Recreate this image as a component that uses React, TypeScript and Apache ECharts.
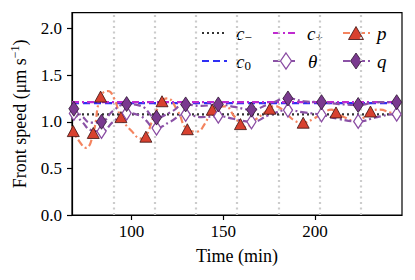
import React, { useEffect, useRef } from "react";
import * as echarts from "echarts";

// ---- data ----
const xRange = [67.5, 247.5];
const yRange = [0, 2.17];
const xTicks = [100, 150, 200];
const yTicks = [0, 0.5, 1.0, 1.5, 2.0];
const divisionTimes = [90, 112.5, 135, 157.5, 180, 202.5, 225];

const cMinus = 1.08;
const cZero = 1.2;
const cPlus = 1.21;

const pCurveT = [67.5, 68.2, 71.5, 75.1, 79.1, 83.1, 87.1, 90.5, 94.2, 100, 105.5, 107.8, 112, 116.6, 119.3, 125, 130.4, 135.5, 140, 144, 150.9, 156, 159.4, 162, 168, 175.4, 177.8, 183, 188.2, 193.6, 199, 205, 209, 211.5, 217, 222.7, 230.3, 235.5, 241, 247.5];
const pCurveV = [0.95, 0.9, 0.79, 0.72, 0.88, 1.27, 1.33, 1.25, 1.05, 0.9, 0.82, 0.84, 1.05, 1.22, 1.25, 1.12, 0.92, 0.895, 0.98, 1.13, 1.165, 1.06, 0.975, 0.94, 1.03, 1.14, 1.17, 1.12, 1.02, 0.99, 1.03, 1.1, 1.13, 1.1, 1.04, 1.0, 1.11, 1.13, 1.1, 1.07];
const pMarkT = [68.2, 79.1, 83.1, 94.2, 107.8, 116.6, 130.4, 144, 159.4, 175.4, 193.6, 211.5, 230.3];
const pMarkV = [0.9, 0.88, 1.27, 1.05, 0.84, 1.22, 0.92, 1.13, 0.975, 1.14, 0.99, 1.1, 1.11];

const qCurveT = [67.5, 68.5, 73, 78, 83.6, 90, 97.3, 105, 113.6, 121, 129.5, 138, 147.3, 156, 165.4, 175, 185.3, 194, 203.6, 213, 223.6, 234, 244.6, 247.5];
const qCurveV = [1.16, 1.14, 1.06, 0.99, 1.0, 1.12, 1.19, 1.17, 1.045, 1.1, 1.186, 1.17, 1.186, 1.16, 1.13, 1.19, 1.25, 1.22, 1.21, 1.19, 1.18, 1.21, 1.21, 1.21];
const qMarkT = [68.5, 83.6, 97.3, 113.6, 129.5, 147.3, 165.4, 185.3, 203.6, 223.6, 244.6];
const qMarkV = [1.14, 1.0, 1.19, 1.045, 1.186, 1.186, 1.13, 1.25, 1.21, 1.18, 1.21];

const thCurveT = [67.5, 68.5, 73, 78, 83.6, 90, 97.3, 105, 113.6, 121, 129.5, 138, 147.3, 156, 165.4, 175, 185.3, 194, 203.6, 213, 223.6, 234, 244.6, 247.5];
const thCurveV = [1.1, 1.09, 1.0, 0.91, 0.897, 1.0, 1.093, 1.06, 0.932, 1.0, 1.08, 1.05, 1.06, 1.03, 1.0, 1.07, 1.125, 1.1, 1.075, 1.03, 1.004, 1.05, 1.082, 1.08];
const thMarkT = [68.5, 83.6, 97.3, 113.6, 129.5, 147.3, 165.4, 185.3, 203.6, 223.6, 244.6];
const thMarkV = [1.09, 0.897, 1.093, 0.932, 1.08, 1.06, 1.0, 1.125, 1.075, 1.004, 1.082];

// ---- styles ----
const FONT = "Liberation Serif, DejaVu Serif, serif";
const C_MINUS = "#333333";
const C_ZERO = "#2f2ff5";
const C_PLUS = "#c02ad0";
const P_LINE = "#f4845f";
const P_FILL = "#d8412f";
const PURPLE_LINE = "#8b52a6";
const TH_EDGE = "#8a4ca3";
const Q_FILL = "#7a3a8f";

const zip = (a: number[], b: number[]) => a.map((t, i) => [t, b[i]]);

export default function App() {
  const ref = useRef<HTMLDivElement>(null);
  useEffect(() => {
    if (!ref.current) return;
    const chart = echarts.init(ref.current, null, { renderer: "svg" });
    const hline = (v: number) => [
      [xRange[0], v],
      [xRange[1], v],
    ];
    const dashDot = [7, 3, 2, 3];
    const mathText = (main: string, sub?: string) =>
      sub ? `{m|${main}}{s|${sub}}` : `{m|${main}}`;
    const rich = {
      m: { fontFamily: FONT, fontStyle: "italic", fontSize: 19, fill: "#000", color: "#000" },
      s: { fontFamily: FONT, fontSize: 13, fill: "#000", color: "#000", padding: [9, 0, 0, 0] },
    };
    const r1 = 33;
    const r2 = 61;
    const legend: any[] = [
      { type: "line", shape: { x1: 202, y1: r1, x2: 227, y2: r1 }, style: { stroke: C_MINUS, lineWidth: 2.2, lineDash: [2, 3] } },
      { type: "text", x: 236, y: r1, style: { text: mathText("c", "−"), rich, verticalAlign: "middle", fontFamily: FONT, fontSize: 19 } },
      { type: "line", shape: { x1: 273, y1: r1, x2: 298, y2: r1 }, style: { stroke: C_PLUS, lineWidth: 2.2, lineDash: dashDot } },
      { type: "text", x: 307, y: r1, style: { text: mathText("c", "+"), rich, verticalAlign: "middle", fontFamily: FONT, fontSize: 19 } },
      { type: "line", shape: { x1: 343, y1: r1, x2: 370, y2: r1 }, style: { stroke: P_LINE, lineWidth: 2.2, lineDash: dashDot } },
      { type: "polygon", shape: { points: [[348.5, 39.5], [363.5, 39.5], [356, 26.5]] }, style: { fill: P_FILL, stroke: "#3a1010", lineWidth: 0.8 } },
      { type: "text", x: 377, y: r1, style: { text: mathText("p"), rich, verticalAlign: "middle", fontFamily: FONT, fontSize: 19 } },
      { type: "line", shape: { x1: 202, y1: r2, x2: 227, y2: r2 }, style: { stroke: C_ZERO, lineWidth: 2.2, lineDash: [7, 4] } },
      { type: "text", x: 236, y: r2, style: { text: mathText("c", "0"), rich, verticalAlign: "middle", fontFamily: FONT, fontSize: 19 } },
      { type: "line", shape: { x1: 273, y1: r2, x2: 298, y2: r2 }, style: { stroke: PURPLE_LINE, lineWidth: 2.2, lineDash: dashDot } },
      { type: "polygon", shape: { points: [[286, 53], [291.5, 61], [286, 69], [280.5, 61]] }, style: { fill: "#fff", stroke: TH_EDGE, lineWidth: 1.3 } },
      { type: "text", x: 308, y: r2, style: { text: mathText("θ"), rich, verticalAlign: "middle", fontFamily: FONT, fontSize: 19 } },
      { type: "line", shape: { x1: 343, y1: r2, x2: 370, y2: r2 }, style: { stroke: PURPLE_LINE, lineWidth: 2.2, lineDash: dashDot } },
      { type: "polygon", shape: { points: [[356, 53], [361.5, 61], [356, 69], [350.5, 61]] }, style: { fill: Q_FILL, stroke: "#2d1530", lineWidth: 0.8 } },
      { type: "text", x: 377, y: r2, style: { text: mathText("q"), rich, verticalAlign: "middle", fontFamily: FONT, fontSize: 19 } },
    ];

    const axisCommon = {
      axisLine: { show: true, lineStyle: { color: "#000", width: 1.2 } },
      axisTick: { show: true, length: 5, lineStyle: { color: "#000", width: 1.2 } },
      splitLine: { show: false },
      nameTextStyle: { fontFamily: FONT, fontSize: 18, color: "#000" },
    };

    chart.setOption({
      animation: false,
      backgroundColor: "#fff",
      grid: {
        left: 72,
        right: 13,
        top: 12.7,
        bottom: 65,
        show: true,
        borderColor: "#000",
        borderWidth: 1.2,
        outerBoundsMode: "none",
      },
      xAxis: {
        type: "value",
        min: xRange[0],
        max: xRange[1],
        ...axisCommon,
        axisTick: { ...axisCommon.axisTick, customValues: xTicks },
        axisLabel: { customValues: xTicks, fontFamily: FONT, fontSize: 17, color: "#000", margin: 8 },
        name: "Time (min)",
        nameLocation: "middle",
        nameGap: 32,
      },
      yAxis: {
        type: "value",
        min: yRange[0],
        max: yRange[1],
        ...axisCommon,
        axisTick: { ...axisCommon.axisTick, customValues: yTicks },
        axisLabel: {
          customValues: yTicks,
          fontFamily: FONT,
          fontSize: 17,
          color: "#000",
          margin: 10,
          formatter: (v: number) => v.toFixed(1),
        },
        name: "{a|Front speed (μm s}{b|−1}{a|)}",
        nameLocation: "middle",
        nameGap: 42,
        nameRotate: 90,
        nameTextStyle: {
          fontFamily: FONT,
          fontSize: 18,
          color: "#000",
          rich: {
            a: { fontFamily: FONT, fontSize: 18, color: "#000" },
            b: { fontFamily: FONT, fontSize: 12, color: "#000", padding: [0, 0, 9, 0] },
          },
        },
      },
      graphic: legend,
      series: [
        {
          type: "line",
          data: hline(cMinus),
          symbol: "none",
          z: 2,
          lineStyle: { color: C_MINUS, width: 2.2, type: [2, 3] },
          markLine: {
            silent: true,
            symbol: ["none", "none"],
            label: { show: false },
            z: 1,
            lineStyle: { color: "#cccccc", width: 2.2, type: [2, 3.5] },
            data: divisionTimes.map((t) => ({ xAxis: t })),
          },
        },
        { type: "line", data: hline(cZero), symbol: "none", z: 3, lineStyle: { color: C_ZERO, width: 2.2, type: [7, 4] } },
        { type: "line", data: hline(cPlus), symbol: "none", z: 4, lineStyle: { color: C_PLUS, width: 2.2, type: dashDot } },
        { type: "line", data: zip(pCurveT, pCurveV), symbol: "none", smooth: 0.5, z: 5, lineStyle: { color: P_LINE, width: 2.2, type: dashDot } },
        { type: "line", data: zip(thCurveT, thCurveV), symbol: "none", smooth: 0.5, z: 5, lineStyle: { color: PURPLE_LINE, width: 2.2, type: dashDot } },
        { type: "line", data: zip(qCurveT, qCurveV), symbol: "none", smooth: 0.5, z: 5, lineStyle: { color: PURPLE_LINE, width: 2.2, type: dashDot } },
        { type: "scatter", data: zip(pMarkT, pMarkV), symbol: "triangle", symbolSize: [12, 11], z: 6, itemStyle: { color: P_FILL, borderColor: "#3a1010", borderWidth: 0.8, opacity: 1 } },
        { type: "scatter", data: zip(thMarkT, thMarkV), symbol: "diamond", symbolSize: [9, 14], z: 6, itemStyle: { color: "#fff", borderColor: TH_EDGE, borderWidth: 1.3, opacity: 1 } },
        { type: "scatter", data: zip(qMarkT, qMarkV), symbol: "diamond", symbolSize: [10, 15], z: 7, itemStyle: { color: Q_FILL, borderColor: "#2d1530", borderWidth: 0.8, opacity: 1 } },
      ],
    });
    return () => chart.dispose();
  }, []);
  return (
    <div
      ref={ref}
      style={{ position: "fixed", left: 0, top: 0, width: 415, height: 280 }}
    />
  );
}
